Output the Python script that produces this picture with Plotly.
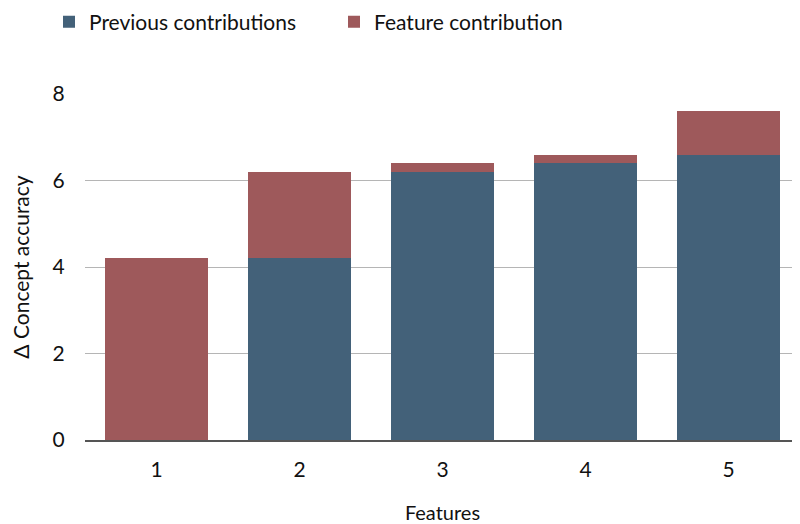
import plotly.graph_objects as go

features = ["1", "2", "3", "4", "5"]
previous = [0, 4.2, 6.2, 6.4, 6.6]
feature_contrib = [4.2, 2.0, 0.2, 0.2, 1.0]
y_ticks = [0, 2, 4, 6, 8]

blue = "#436179"
red = "#9e595b"
font_family = "Lato, 'Open Sans', sans-serif"

W, H = 792, 516  # page body has an 8px margin

fig = go.Figure()
fig.add_trace(go.Bar(x=features, y=previous, name="Previous contributions",
                     marker=dict(color=blue, line=dict(width=0))))
fig.add_trace(go.Bar(x=features, y=feature_contrib, name="Feature contribution",
                     marker=dict(color=red, line=dict(width=0))))

fig.update_layout(
    barmode="stack",
    bargap=0.28,
    width=W, height=H,
    margin=dict(l=77, r=0, t=86, b=84, autoexpand=False),
    paper_bgcolor="white", plot_bgcolor="white",
    font=dict(family=font_family, size=20, color="#111111"),
    legend=dict(orientation="h", x=41 / W, xref="container", xanchor="left",
                y=1 - 14 / H, yref="container", yanchor="middle",
                font=dict(size=21), itemwidth=30,
                traceorder="normal", entrywidth=240),
    xaxis=dict(title=dict(text="Features", font=dict(size=20), standoff=27),
               showgrid=False, showline=True, linecolor="#555555", linewidth=1.5,
               ticks="outside", ticklen=10, tickcolor="rgba(0,0,0,0)",
               tickfont=dict(size=21), automargin=False),
    yaxis=dict(title=dict(text="Δ Concept accuracy", font=dict(size=21), standoff=21),
               range=[0, 8], tickvals=y_ticks, showgrid=True, gridcolor="#b5b5b5",
               gridwidth=1, zeroline=False, ticks="outside", ticklen=15,
               tickcolor="rgba(0,0,0,0)", tickfont=dict(size=21), automargin=False),
)

fig.write_html("out.html")
